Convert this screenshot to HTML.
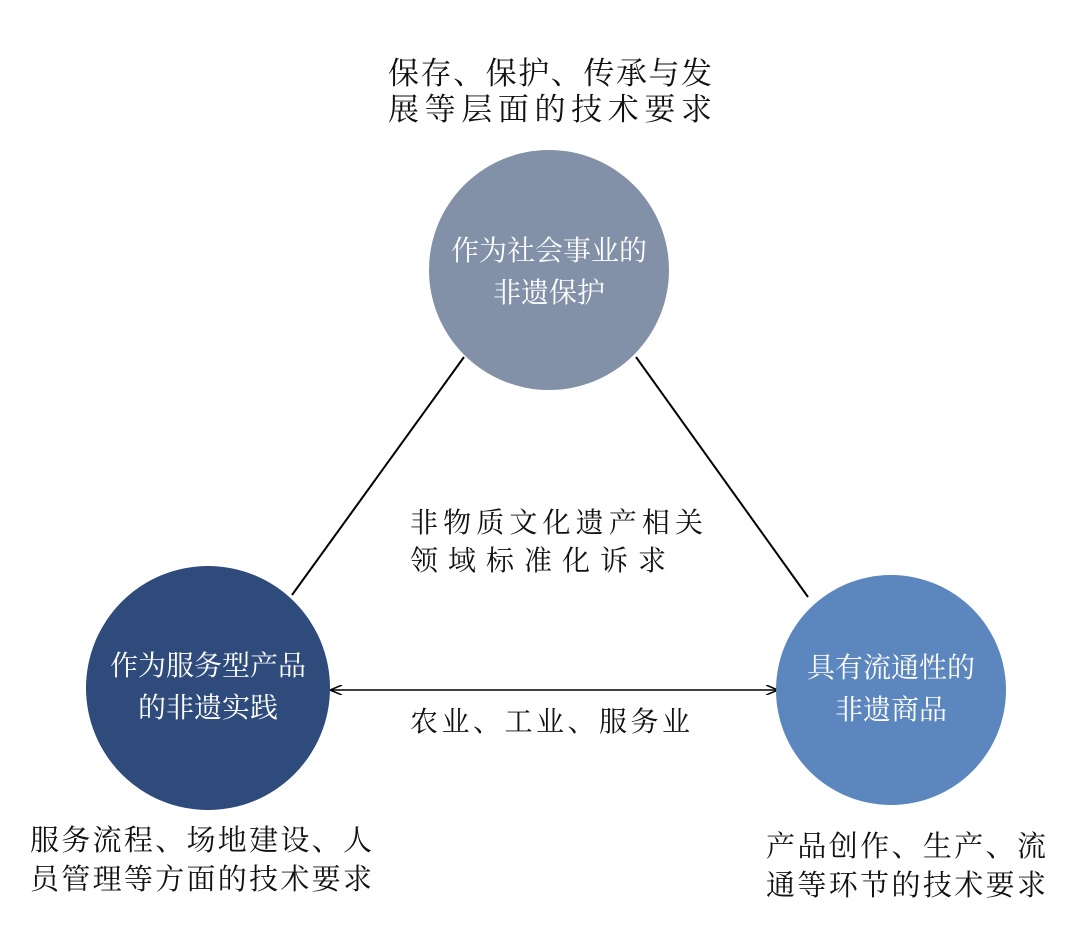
<!DOCTYPE html>
<html><head><meta charset="utf-8"><style>
body{margin:0;width:1080px;height:937px;background:#fff;position:relative;overflow:hidden;font-family:"Liberation Serif","Noto Serif CJK SC",serif;color:#111}
.t{position:absolute;white-space:nowrap;text-align:justify;text-align-last:justify;line-height:1}
.c{position:absolute;border-radius:50%}
.w{position:absolute;color:#fff;text-align:center;white-space:nowrap;font-size:28px;line-height:42px}
</style></head><body>
<svg width="1080" height="937" style="position:absolute;left:0;top:0">
<defs><marker id="a" markerWidth="12" markerHeight="10" refX="11" refY="5" orient="auto-start-reverse" markerUnits="userSpaceOnUse"><path d="M0,0 L12,5 L0,10" fill="none" stroke="#000" stroke-width="1.5"/></marker></defs>
<line x1="464" y1="357" x2="292" y2="595" stroke="#000" stroke-width="2"/>
<line x1="636" y1="357" x2="808" y2="597" stroke="#000" stroke-width="2"/>
<line x1="331" y1="690" x2="777" y2="690" stroke="#000" stroke-width="1.5" marker-start="url(#a)" marker-end="url(#a)"/>
</svg>
<div class="c" style="left:429px;top:150px;width:240px;height:240px;background:#8290a8"></div>
<div class="c" style="left:86px;top:566px;width:244px;height:244px;background:#2e4b7c"></div>
<div class="c" style="left:776px;top:575px;width:230px;height:230px;background:#5b86be"></div>
<div class="w" style="left:429px;top:231px;width:240px">作为社会事业的<br>非遗保护</div>
<div class="w" style="left:86px;top:646px;width:244px">作为服务型产品<br>的非遗实践</div>
<div class="w" style="left:776px;top:648px;width:230px">具有流通性的<br>非遗商品</div>
<div class="t" style="left:388px;top:58px;width:324px;font-size:31px">保存、保护、传承与发</div>
<div class="t" style="left:388px;top:94px;width:324px;font-size:31px">展等层面的技术要求</div>
<div class="t" style="left:410px;top:510px;width:293px;font-size:28px">非物质文化遗产相关</div>
<div class="t" style="left:410px;top:548px;width:256px;font-size:28px">领域标准化诉求</div>
<div class="t" style="left:410px;top:709px;width:280px;font-size:28px">农业、工业、服务业</div>
<div class="t" style="left:30px;top:827px;width:342px;font-size:29px">服务流程、场地建设、人</div>
<div class="t" style="left:30px;top:866px;width:342px;font-size:29px">员管理等方面的技术要求</div>
<div class="t" style="left:766px;top:833px;width:280px;font-size:29px">产品创作、生产、流</div>
<div class="t" style="left:766px;top:872px;width:280px;font-size:29px">通等环节的技术要求</div>
</body></html>
